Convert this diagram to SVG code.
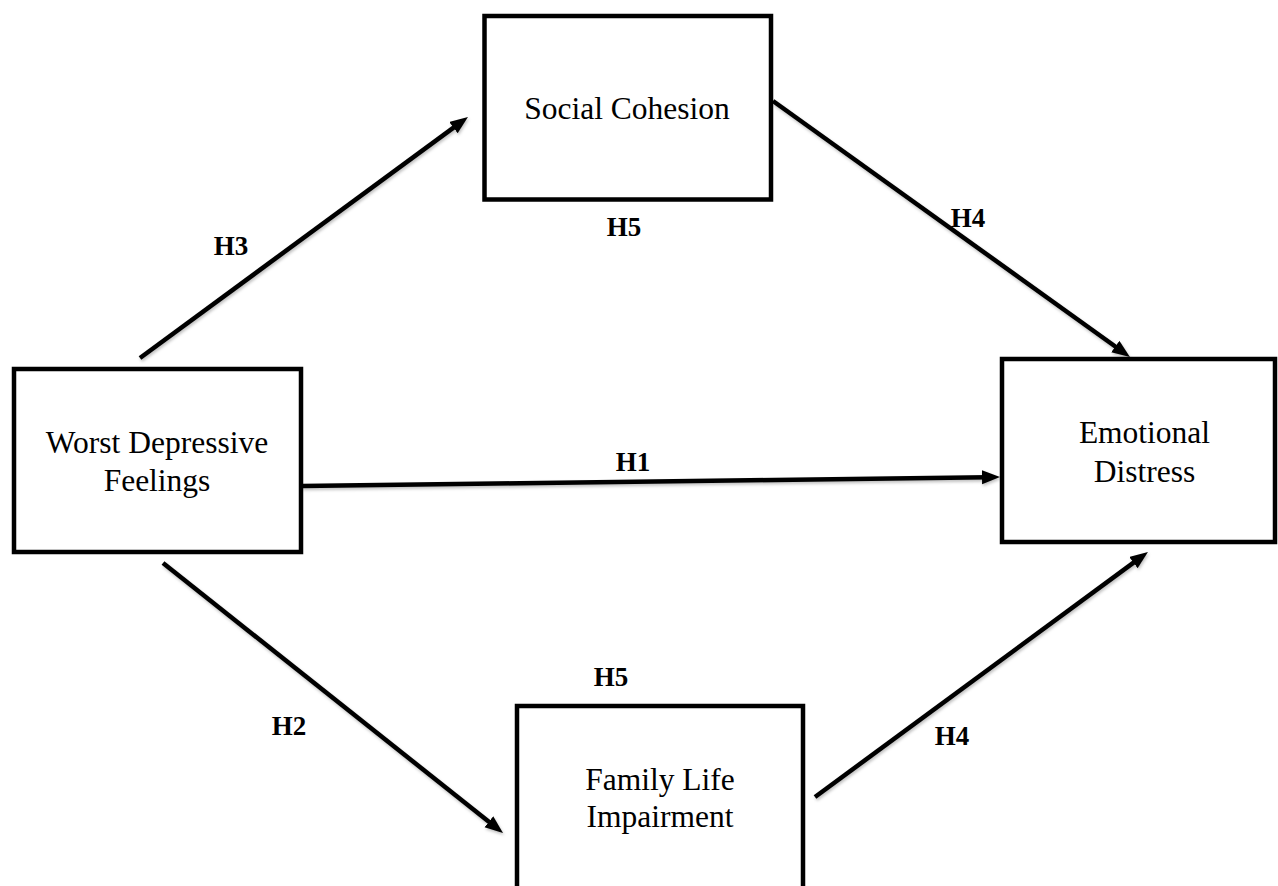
<svg xmlns="http://www.w3.org/2000/svg" width="1278" height="886" viewBox="0 0 1278 886">
  <style>
    .box { fill: #ffffff; stroke: #000000; stroke-width: 4.5; }
    .node-text { font-family: "Liberation Serif", "Times New Roman", serif; font-size: 31.5px; fill: #000000; text-anchor: middle; }
    .label { font-family: "Liberation Serif", "Times New Roman", serif; font-size: 27px; font-weight: bold; fill: #000000; text-anchor: middle; }
    .conn { stroke: #000000; stroke-width: 4.5; fill: none; marker-end: url(#arrow); }
  </style>
  <defs>
    <marker id="arrow" markerUnits="userSpaceOnUse" markerWidth="20" markerHeight="16" refX="6" refY="7" orient="auto">
      <path d="M0,0 L18,7 L0,14 z" fill="#000000"/>
    </marker>
    <filter id="shadow" x="-10%" y="-10%" width="120%" height="130%">
      <feDropShadow dx="1" dy="2" stdDeviation="1.5" flood-color="#000000" flood-opacity="0.25"/>
    </filter>
  </defs>
  <rect width="1278" height="886" fill="#ffffff"/>

  <g id="connectors" filter="url(#shadow)">
    <line class="conn" x1="140" y1="358" x2="458.3" y2="124.1"/>
    <line class="conn" x1="773" y1="101" x2="1120.2" y2="350"/>
    <line class="conn" x1="302" y1="486" x2="988" y2="477.2"/>
    <line class="conn" x1="163" y1="563" x2="493.6" y2="825.5"/>
    <line class="conn" x1="815" y1="797" x2="1138.3" y2="559.1"/>
  </g>

  <g id="node-social-cohesion">
    <rect class="box" x="484.5" y="16" width="286.5" height="183.5"/>
    <text class="node-text" x="627" y="119">Social Cohesion</text>
  </g>

  <g id="node-worst-depressive-feelings">
    <rect class="box" x="14" y="369" width="287" height="183"/>
    <text class="node-text" x="157" y="453">Worst Depressive</text>
    <text class="node-text" x="157" y="491">Feelings</text>
  </g>

  <g id="node-emotional-distress">
    <rect class="box" x="1002" y="359" width="273" height="183"/>
    <text class="node-text" x="1144.5" y="443">Emotional</text>
    <text class="node-text" x="1144.5" y="482">Distress</text>
  </g>

  <g id="node-family-life-impairment">
    <rect class="box" x="517" y="706" width="286" height="195"/>
    <text class="node-text" x="660" y="790">Family Life</text>
    <text class="node-text" x="660" y="827">Impairment</text>
  </g>

  <g id="labels">
    <text class="label" x="231" y="255">H3</text>
    <text class="label" x="624" y="236">H5</text>
    <text class="label" x="968" y="227">H4</text>
    <text class="label" x="633" y="471">H1</text>
    <text class="label" x="289" y="735">H2</text>
    <text class="label" x="611" y="686">H5</text>
    <text class="label" x="952" y="745">H4</text>
  </g>
</svg>
